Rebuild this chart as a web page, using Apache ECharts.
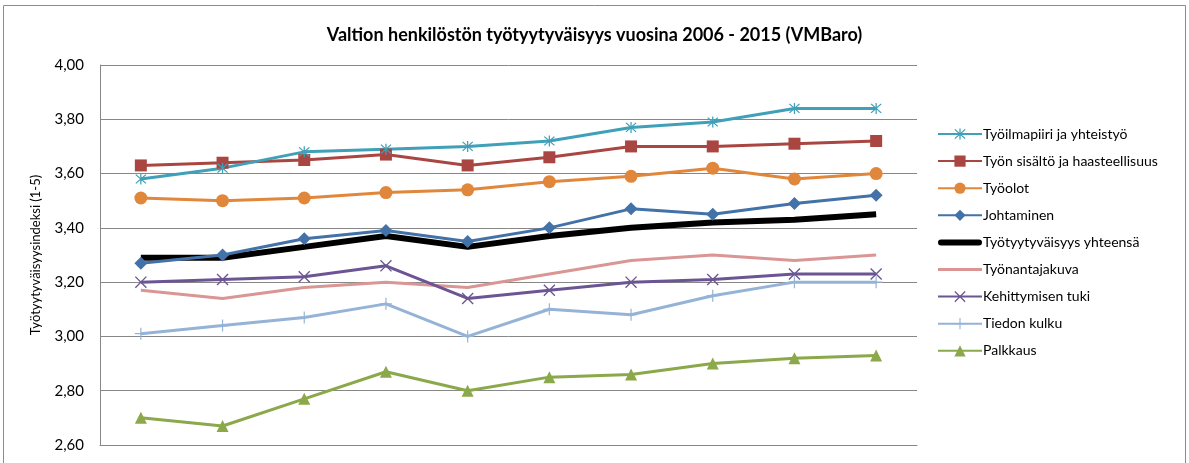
<!DOCTYPE html>
<html>
<head>
<meta charset="utf-8">
<script src="https://cdn.jsdelivr.net/npm/echarts@6/dist/echarts.min.js"></script>
<style>
  html, body { margin: 0; padding: 0; background: #fff; }
  #chart { width: 1189px; height: 463px; }
</style>
</head>
<body>
<div id="chart"></div>
<script>
let years = ['2006', '2007', '2008', '2009', '2010', '2011', '2012', '2013', '2014', '2015'];
let yTicks = [2.6, 2.8, 3.0, 3.2, 3.4, 3.6, 3.8, 4.0];

// series values
let tyoilmapiiri = [3.58, 3.62, 3.68, 3.69, 3.70, 3.72, 3.77, 3.79, 3.84, 3.84];
let tyonSisalto = [3.63, 3.64, 3.65, 3.67, 3.63, 3.66, 3.70, 3.70, 3.71, 3.72];
let tyoolot = [3.51, 3.50, 3.51, 3.53, 3.54, 3.57, 3.59, 3.62, 3.58, 3.60];
let johtaminen = [3.27, 3.30, 3.36, 3.39, 3.35, 3.40, 3.47, 3.45, 3.49, 3.52];
let yhteensa = [3.29, 3.29, 3.33, 3.37, 3.33, 3.37, 3.40, 3.42, 3.43, 3.45];
let tyonantajakuva = [3.17, 3.14, 3.18, 3.20, 3.18, 3.23, 3.28, 3.30, 3.28, 3.30];
let kehittyminen = [3.20, 3.21, 3.22, 3.26, 3.14, 3.17, 3.20, 3.21, 3.23, 3.23];
let tiedonKulku = [3.01, 3.04, 3.07, 3.12, 3.00, 3.10, 3.08, 3.15, 3.20, 3.20];
let palkkaus = [2.70, 2.67, 2.77, 2.87, 2.80, 2.85, 2.86, 2.90, 2.92, 2.93];

// marker shapes Excel uses but ECharts lacks
let STAR = 'path://M4.5,0L5.5,0L5.5,10L4.5,10Z M0.6,1.3L1.3,0.6L9.4,8.7L8.7,9.4Z M8.7,0.6L9.4,1.3L1.3,9.4L0.6,8.7Z';
let CROSS = 'path://M0.6,1.3L1.3,0.6L9.4,8.7L8.7,9.4Z M8.7,0.6L9.4,1.3L1.3,9.4L0.6,8.7Z';
let PLUS = 'path://M4.5,0L5.5,0L5.5,10L4.5,10Z M0,4.5L10,4.5L10,5.5L0,5.5Z';
// legend icons for the marker-less lines
let THICK_BAR = 'path://M3,0L41,0A3,3 0 0 1 41,6L3,6A3,3 0 0 1 3,0Z';
let THIN_BAR = 'path://M0,0L44,0L44,3L0,3Z';

let FONT = 'Lato';

let mkSeries = (name, data, color, symbol, size, width = 3) => ({
  name: name,
  type: 'line',
  data: data,
  symbol: symbol,
  symbolSize: size,
  showSymbol: symbol !== 'none',
  lineStyle: { color: color, width: width },
  itemStyle: { color: color },
  emphasis: { disabled: true }
});

let chart = echarts.init(document.querySelector('#chart'));
chart.setOption({
  animation: false,
  textStyle: { fontFamily: FONT },
  title: {
    text: 'Valtion henkilöstön työtyytyväisyys vuosina 2006 - 2015 (VMBaro)',
    left: 'center',
    top: 21,
    textStyle: { fontFamily: FONT, fontSize: 18, fontWeight: 'bold', color: '#000' }
  },
  graphic: [{
    type: 'rect',
    shape: { x: 3.5, y: 5.5, width: 1182, height: 470 },
    style: { fill: 'none', stroke: '#8c8c8c', lineWidth: 1 },
    silent: true
  }],
  legend: {
    orient: 'vertical',
    left: 932,
    top: 122,
    itemWidth: 44,
    itemHeight: 14,
    itemGap: 13.1,
    textStyle: { fontFamily: FONT, fontSize: 14, color: '#000', padding: [0, 0, 0, -4] },
    data: [
      { name: 'Työilmapiiri ja yhteistyö' },
      { name: 'Työn sisältö ja haasteellisuus' },
      { name: 'Työolot' },
      { name: 'Johtaminen' },
      { name: 'Työtyytyväisyys yhteensä', icon: THICK_BAR },
      { name: 'Työnantajakuva', icon: THIN_BAR },
      { name: 'Kehittymisen tuki' },
      { name: 'Tiedon kulku' },
      { name: 'Palkkaus' }
    ]
  },
  grid: { left: 100, right: 272, top: 65, bottom: 18, containLabel: false },
  xAxis: {
    type: 'category',
    data: years,
    boundaryGap: true,
    axisLine: { lineStyle: { color: '#878787', width: 1 } },
    axisTick: { show: false },
    axisLabel: { show: false }
  },
  yAxis: {
    type: 'value',
    min: yTicks[0],
    max: yTicks[yTicks.length - 1],
    interval: 0.2,
    name: 'Työtyytyväisyysindeksi (1-5)',
    nameLocation: 'middle',
    nameGap: 58,
    nameTextStyle: { fontFamily: FONT, fontSize: 13, color: '#000' },
    axisLine: { show: true, lineStyle: { color: '#878787', width: 1 } },
    axisTick: { show: false },
    axisLabel: {
      fontFamily: FONT,
      fontSize: 15,
      color: '#000',
      margin: 16,
      formatter: v => v.toFixed(2).replace('.', ',')
    },
    splitLine: { lineStyle: { color: '#878787', width: 1 } }
  },
  series: [
    mkSeries('Työnantajakuva', tyonantajakuva, '#d99694', 'none', 0),
    mkSeries('Tiedon kulku', tiedonKulku, '#95b3d7', PLUS, 12),
    mkSeries('Palkkaus', palkkaus, '#8ba84a', 'triangle', 12),
    mkSeries('Kehittymisen tuki', kehittyminen, '#6b5593', CROSS, 12),
    mkSeries('Työtyytyväisyys yhteensä', yhteensa, '#000000', 'none', 0, 6),
    mkSeries('Johtaminen', johtaminen, '#4372a8', 'diamond', 13),
    mkSeries('Työolot', tyoolot, '#e0873c', 'circle', 13),
    mkSeries('Työn sisältö ja haasteellisuus', tyonSisalto, '#aa4641', 'rect', 12),
    mkSeries('Työilmapiiri ja yhteistyö', tyoilmapiiri, '#3fa0b8', STAR, 11)
  ]
});
</script>
</body>
</html>
